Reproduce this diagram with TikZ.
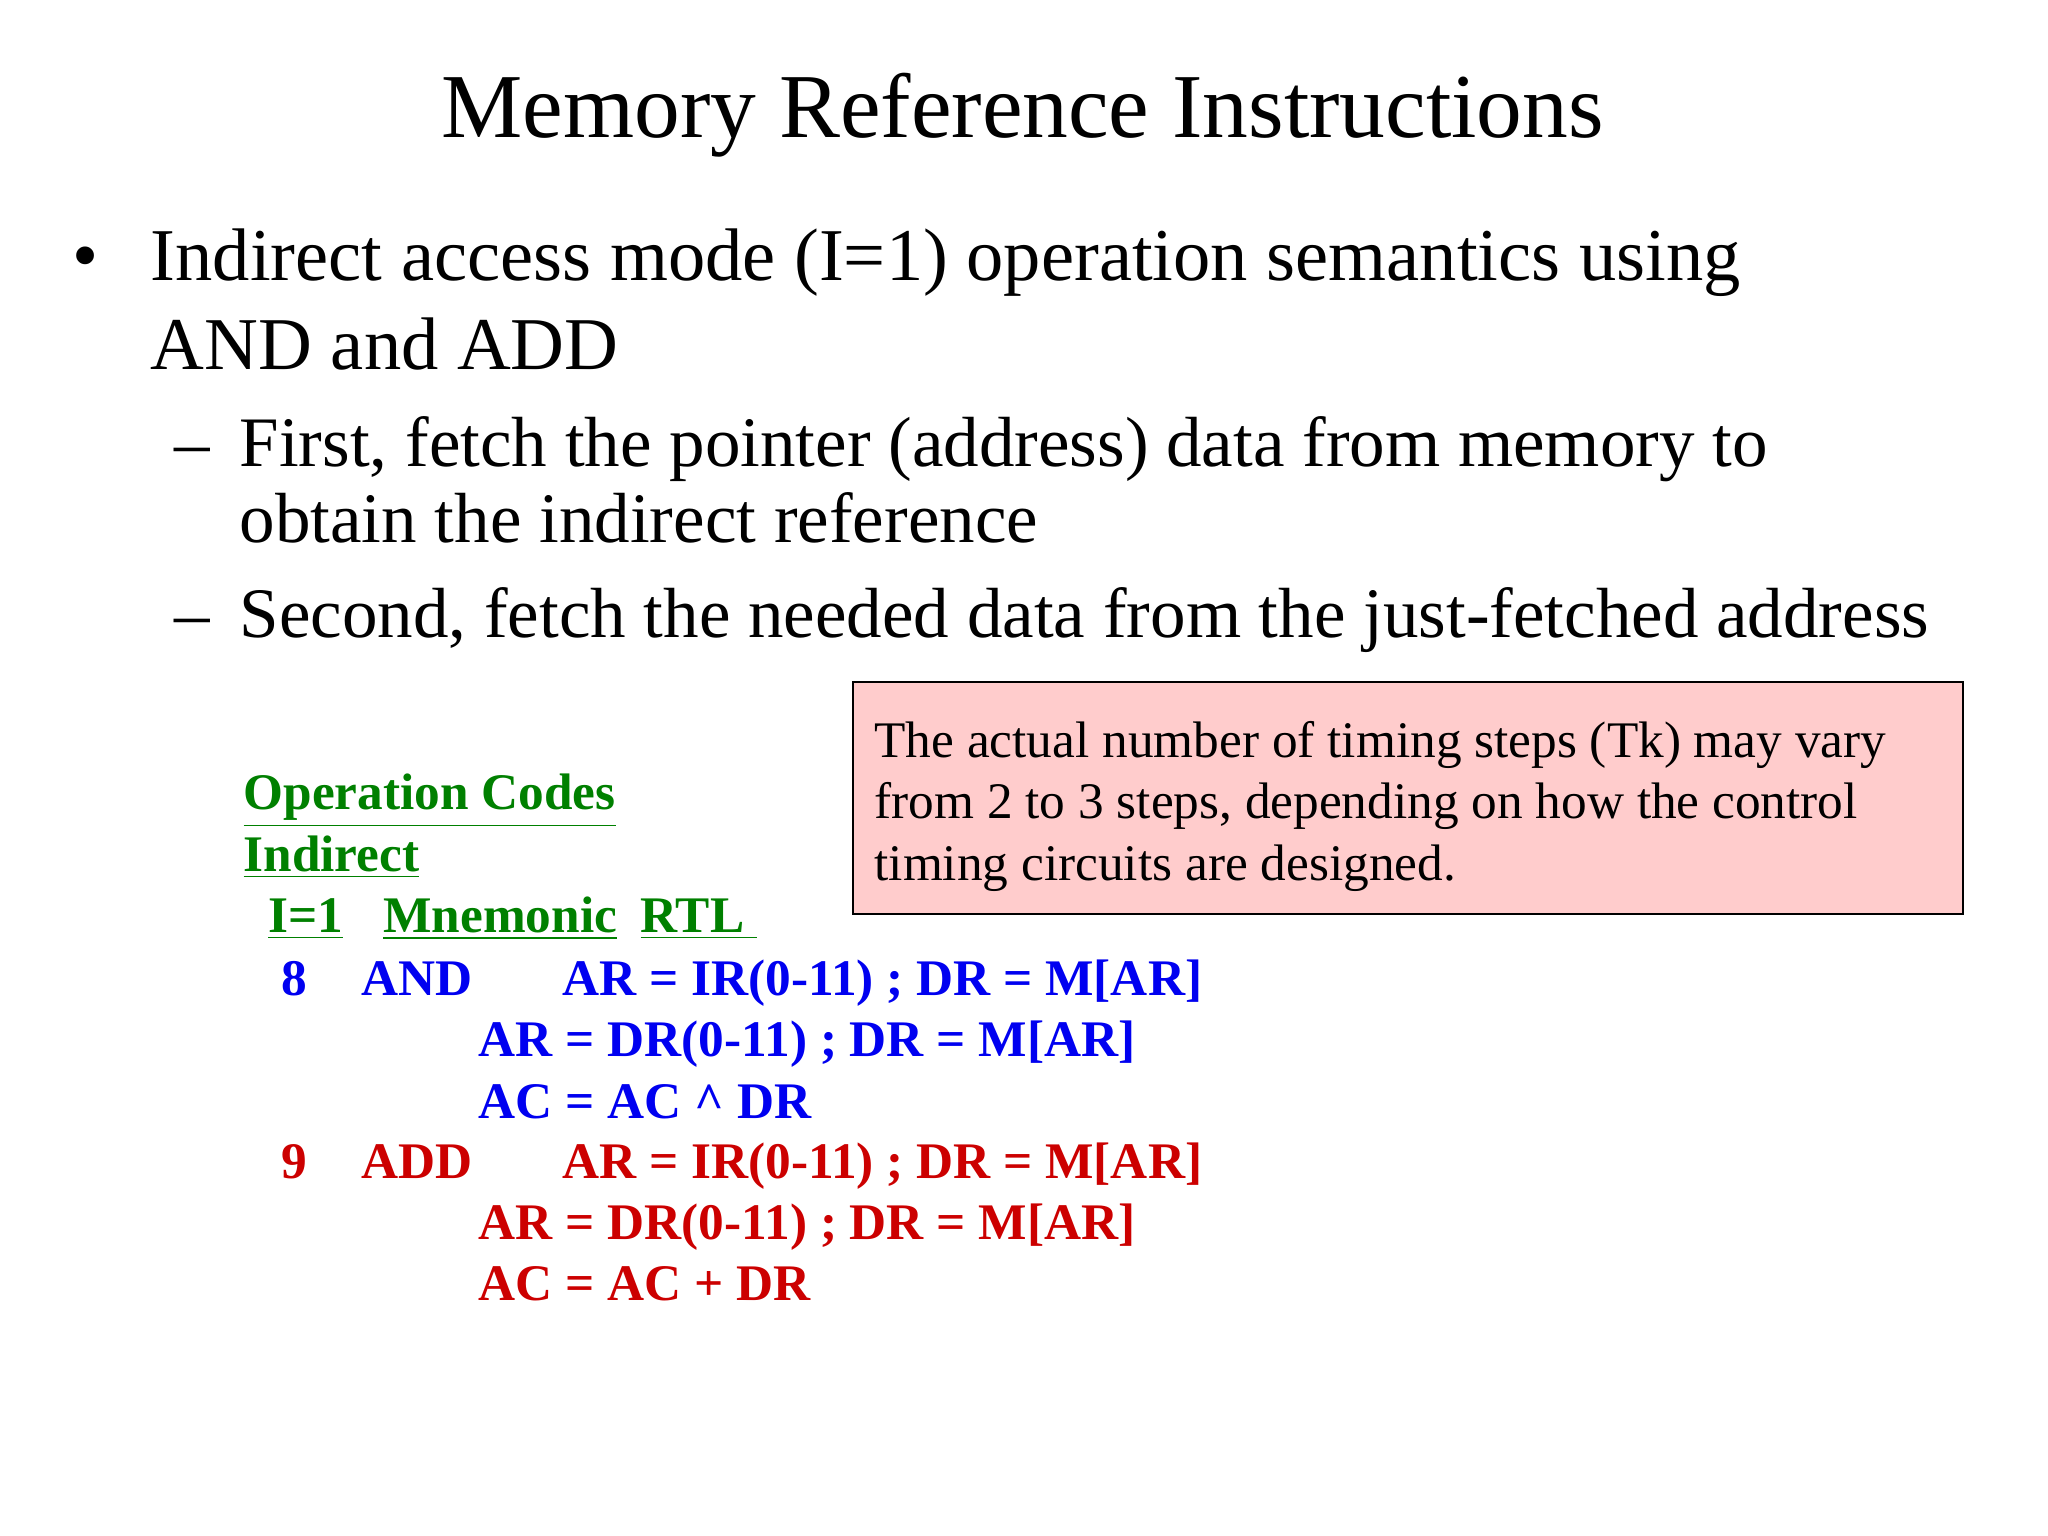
\documentclass[tikz,border=0pt]{standalone}
\usepackage{fontspec}
\setmainfont{Liberation Serif}
\definecolor{gr}{RGB}{0,128,0}
\definecolor{bl}{RGB}{0,0,240}
\definecolor{rd}{RGB}{204,0,0}
\definecolor{pk}{RGB}{255,204,204}
\tikzset{t/.style={anchor=base west,inner sep=0pt},
 code/.style={t,font=\fontsize{14.6}{18}\selectfont\bfseries}}
\begin{document}
\begin{tikzpicture}[x=0.013061cm,y=-0.013061cm]
\useasboundingbox[fill=white] (0,0) rectangle (1568,1176);
\node[anchor=base,inner sep=0pt,font=\fontsize{26}{30}\selectfont] (title) at (783,105) {Memory Reference Instructions};
\begin{scope}[every node/.append style={font=\fontsize{21.2}{25}\selectfont}]
\node[t] (b) at (55,215) {•};
\node[t] (b1) at (115,215) {Indirect access mode (I=1) operation semantics using};
\node[t] (b2) at (115,283) {AND and ADD};
\end{scope}
\begin{scope}[every node/.append style={font=\fontsize{20.2}{24}\selectfont}]
\node[t] (d1) at (133,357) {–};
\node[t] (s1) at (183,357) {First, fetch the pointer (address) data from memory to};
\node[t] (s2) at (183,415) {obtain the indirect reference};
\node[t] (d2) at (133,488) {–};
\node[t] (s3) at (183,488) {Second, fetch the needed data from the just-fetched address};
\end{scope}
\draw[fill=pk,line width=0.6pt] (653,522) rectangle (1503,700);
\begin{scope}[every node/.append style={font=\fontsize{14.6}{18}\selectfont}]
\node[t] (n1) at (669,580) {The actual number of timing steps (Tk) may vary};
\node[t] (n2) at (669,627) {from 2 to 3 steps, depending on how the control};
\node[t] (n3) at (669,674) {timing circuits are designed.};
\end{scope}
\begin{scope}[every node/.style={code,text=gr}]
\node (g1) at (186,620) {\underline{Operation Codes}};
\node (g2) at (186,667) {\underline{Indirect}};
\node (g3) at (205,714) {\underline{I=1}};
\node (g4) at (293,714) {\underline{Mnemonic}};
\node (g5) at (490,714) {\underline{RTL\ }};
\end{scope}
\begin{scope}[every node/.style={code,text=bl}]
\node (a0) at (215,762) {8};
\node (a1) at (276,762) {AND};
\node (a2) at (430,762) {AR = IR(0-11) ; DR = M[AR]};
\node (a3) at (366,809) {AR = DR(0-11) ; DR = M[AR]};
\node (a4) at (366,856) {AC = AC \^{} DR};
\end{scope}
\begin{scope}[every node/.style={code,text=rd}]
\node (r0) at (215,902) {9};
\node (r1) at (276,902) {ADD};
\node (r2) at (430,902) {AR = IR(0-11) ; DR = M[AR]};
\node (r3) at (366,949) {AR = DR(0-11) ; DR = M[AR]};
\node (r4) at (366,996) {AC = AC + DR};
\end{scope}
\end{tikzpicture}
\end{document}
